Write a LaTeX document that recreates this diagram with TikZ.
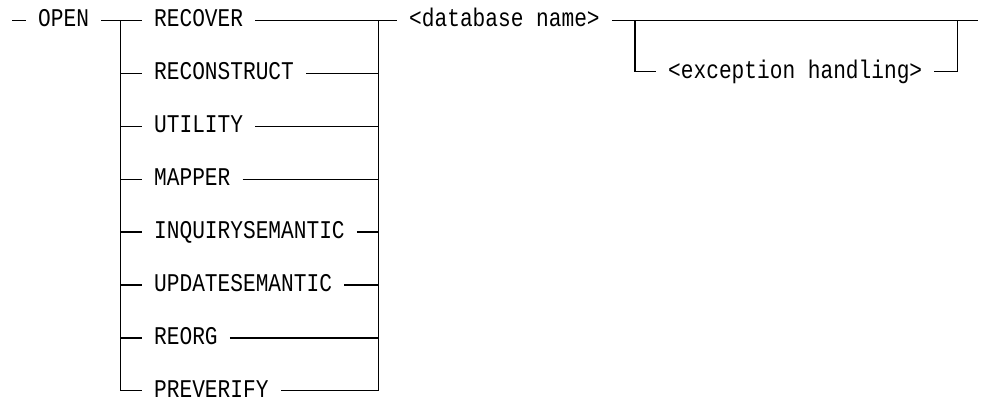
\documentclass[tikz,border=0pt]{standalone}
\usepackage{fontspec}
\setmainfont[FakeStretch=0.83]{Liberation Mono}
\begin{document}
\begin{tikzpicture}[x=1pt,y=-1pt,
  kw/.style={anchor=west,inner xsep=12pt,inner ysep=0pt,text height=12.8pt,text depth=0pt,
    font=\fontsize{25.5}{28}\selectfont},
  rr/.style={line width=1.3pt}]
\useasboundingbox (0,0) rectangle (981,400);
\def\xl{120.7}
\def\xr{378.3}
% start
\coordinate (start) at (12,20.5);
\node[kw] (open) at (26,20.5) {OPEN};
\foreach \n/\t [count=\i from 0] in {rec/RECOVER,recon/RECONSTRUCT,util/UTILITY,map/MAPPER,inq/INQUIRYSEMANTIC,upd/UPDATESEMANTIC,reorg/REORG,prev/PREVERIFY}{
  \node[kw] (\n) at (142,20.5+52.9*\i) {\t};
}
\node[kw] (db) at (397,20.5) {<database name>};
\node[kw] (exc) at (656,71.7) {<exception handling>};
\coordinate (lj) at (\xl,20.5);
\coordinate (rj) at (\xr,20.5);
\coordinate (ej) at (635,20.5);
\coordinate (fj) at (957.7,20.5);
\coordinate (end) at (978,20.5);
\draw[rr] (start) -- (open.west);
\draw[rr] (open.east) -- (rec.west);
\draw[rr] (rec.east) -- (db.west);
\draw[rr] (db.east) -- (end);
% left rail
\draw[rr] (lj) |- (prev.west);
\draw[rr] (rj) |- (prev.east);
\foreach \n in {recon,util,map,inq,upd,reorg}{
  \draw[rr] (lj |- \n.west) -- (\n.west);
  \draw[rr] (\n.east) -- (rj |- \n.east);
}
% optional exception
\draw[rr] (ej) |- (exc.west);
\draw[rr] (fj) |- (exc.east);
\end{tikzpicture}
\end{document}
